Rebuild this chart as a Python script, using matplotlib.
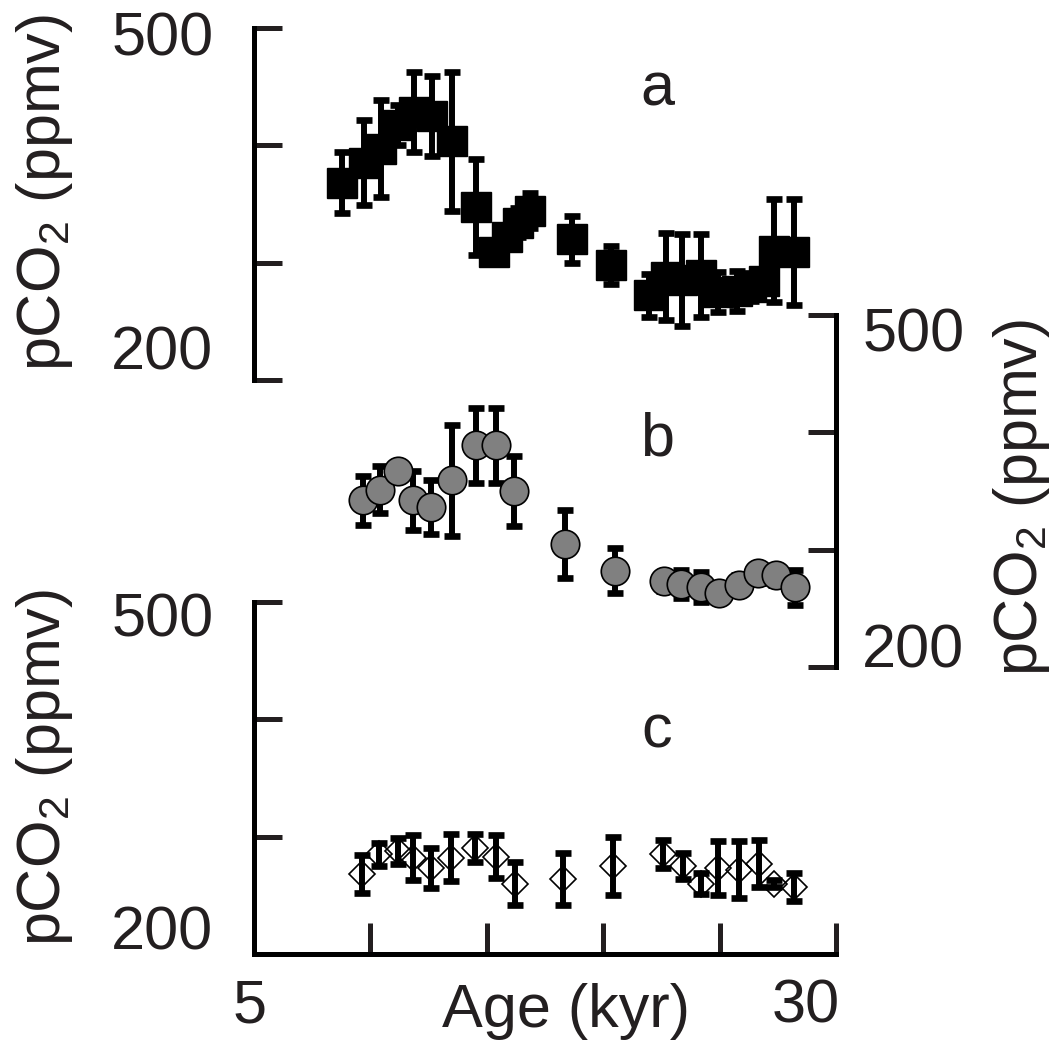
import matplotlib
matplotlib.use('Agg')
import matplotlib.pyplot as plt

plt.rcParams['font.family'] = ['Liberation Sans', 'DejaVu Sans']
plt.rcParams['mathtext.fontset'] = 'custom'
plt.rcParams['mathtext.rm'] = 'Liberation Sans'

# panel a - black squares
age_a = [8.76, 9.72, 10.45, 11.17, 11.86, 12.63, 13.49, 14.52, 15.29, 15.85, 16.36, 16.84,
         18.64, 20.35, 21.98, 22.71, 23.40, 24.21, 24.94, 25.75, 26.35, 26.91, 27.34, 28.20]
co2_a = [368, 385, 397, 417, 428, 425, 403, 347, 309, 322, 334, 344,
         320, 298, 272, 288, 285, 289, 275, 276, 279, 284, 310, 309]
err_a = [26, 36, 41, 17, 34, 34, 59, 41, 8, 10, 12, 15,
         20, 16, 18, 37, 39, 35, 17, 17, 12, 10, 44, 45]

# panel b - grey circles
age_b = [9.69, 10.40, 11.19, 11.83, 12.62, 13.52, 14.52, 15.38, 16.15, 18.38,
         20.52, 22.62, 23.34, 24.20, 24.98, 25.84, 26.67, 27.42, 28.26]
co2_b = [342, 351, 367, 342, 336, 359, 389, 389, 350, 305,
         282, 273, 271, 268, 263, 270, 280, 278, 268]
err_b = [21, 20, 8, 25, 23, 47, 32, 32, 30, 29,
         19, 8, 12, 13, 8, 8, 8, 8, 15]

# panel c - open diamonds
age_c = [9.62, 10.37, 11.19, 11.83, 12.62, 13.48, 14.48, 15.41, 16.19, 18.26,
         20.41, 22.55, 23.41, 24.20, 24.91, 25.84, 26.70, 27.34, 28.20]
co2_c = [268, 285, 288, 282, 273, 282, 290, 283, 260, 264,
         275, 285, 275, 260, 273, 272, 277, 260, 257]
err_c = [16, 10, 11, 19, 17, 20, 12, 18, 18, 22,
         25, 12, 11, 9, 23, 24, 20, 3, 12]

yticks = [200, 300, 400, 500]
xticks = [5, 10, 15, 20, 25, 30]

txt = '#231f20'
fs = 44
W, H = 1058, 1046

fig = plt.figure(figsize=(W / 100, H / 100), dpi=100)


def panel(top, bottom):
    ax = fig.add_axes([254 / W, 1 - bottom / H, (836 - 254) / W, (bottom - top) / H])
    ax.patch.set_visible(False)
    ax.set_xlim(5, 30)
    ax.set_ylim(200, 500)
    for s in ax.spines.values():
        s.set_visible(False)
        s.set_linewidth(3.6)
        s.set_color('black')
    ax.set_yticks(yticks)
    ax.set_xticks(xticks)
    ax.tick_params(direction='in', length=20, width=3.6, color=txt,
                   left=False, right=False, top=False, bottom=False,
                   labelleft=False, labelright=False, labelbottom=False)
    return ax


ax_a = panel(27.5, 380)
ax_b = panel(315, 667)
ax_c = panel(602, 954)

ax_a.spines['left'].set_visible(True)
ax_a.tick_params(axis='y', left=True)
ax_b.spines['right'].set_visible(True)
ax_b.tick_params(axis='y', right=True)
ax_c.spines['left'].set_visible(True)
ax_c.spines['bottom'].set_visible(True)
ax_c.tick_params(axis='y', left=True)
ax_c.tick_params(axis='x', bottom=True, length=22)

ekw = dict(ecolor='black', elinewidth=4.3, capsize=5.5, capthick=4.8, clip_on=False)

ax_a.errorbar(age_a, co2_a, yerr=err_a, fmt='s', ms=21, mfc='black', mec='black', **ekw)

ax_b.errorbar(age_b, co2_b, yerr=err_b, fmt='none', zorder=2, **ekw)
ax_b.plot(age_b, co2_b, 'o', ms=20.5, mfc='#808080', mec='black', mew=1.2,
          zorder=3, clip_on=False)

ax_c.plot(age_c, co2_c, 'D', ms=13.5, mfc='none', mec='black', mew=1.2,
          zorder=2, clip_on=False)
ax_c.errorbar(age_c, co2_c, yerr=err_c, fmt='none', zorder=3, **ekw)

# tick labels
for ax, lo, hi in [(ax_a, 222, 489), (ax_c, 217, 484)]:
    tr = ax.get_yaxis_transform()
    ax.text(-0.07, lo, '200', transform=tr, ha='right', va='center', fontsize=fs, color=txt)
    ax.text(-0.07, hi, '500', transform=tr, ha='right', va='center', fontsize=fs, color=txt)
tr = ax_b.get_yaxis_transform()
ax_b.text(1.045, 213, '200', transform=tr, ha='left', va='center', fontsize=fs, color=txt)
ax_b.text(1.045, 482, '500', transform=tr, ha='left', va='center', fontsize=fs, color=txt)

tr = ax_c.get_xaxis_transform()
ax_c.text(4.8, -0.07, '5', transform=tr, ha='center', va='top', fontsize=fs, color=txt)
ax_c.text(28.7, -0.07, '30', transform=tr, ha='center', va='top', fontsize=fs, color=txt)

# axis titles
ylab = 'pCO$_\\mathregular{2}$ (ppmv)'
fig.text(45 / W, 1 - 192 / H, ylab, rotation=90, ha='center', va='center', fontsize=fs, color=txt)
fig.text(45 / W, 1 - 767 / H, ylab, rotation=90, ha='center', va='center', fontsize=fs, color=txt)
fig.text(1022 / W, 1 - 497 / H, ylab, rotation=90, ha='center', va='center', fontsize=fs, color=txt)
fig.text(566 / W, 1 - 1012 / H, 'Age (kyr)', ha='center', va='center', fontsize=fs, color=txt)

# panel letters
for y, lab in [(90, 'a'), (440, 'b'), (732, 'c')]:
    fig.text(657 / W, 1 - y / H, lab, ha='center', va='center', fontsize=fs, color=txt)

fig.savefig('out.png', dpi=100)
